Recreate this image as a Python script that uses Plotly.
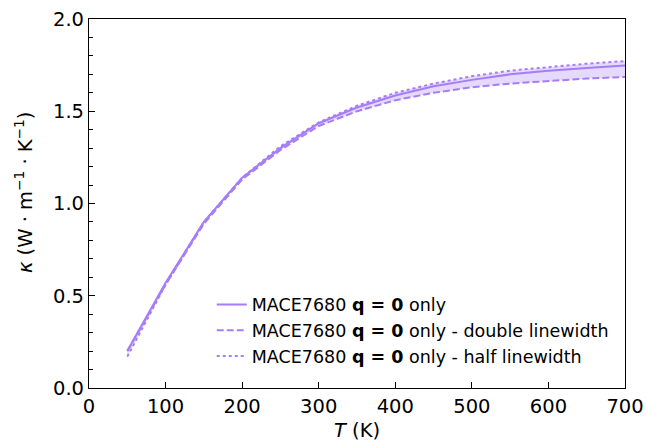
import plotly.graph_objects as go

T = [50, 100, 150, 200, 250, 300, 350, 400, 450, 500, 550, 600, 650, 700]
kappa_solid = [0.20, 0.57, 0.90, 1.14, 1.30, 1.435, 1.52, 1.585, 1.635, 1.67, 1.70, 1.72, 1.735, 1.748]
kappa_double = [0.20, 0.56, 0.89, 1.13, 1.29, 1.42, 1.50, 1.56, 1.60, 1.63, 1.65, 1.665, 1.677, 1.686]
kappa_half = [0.17, 0.56, 0.90, 1.14, 1.31, 1.44, 1.53, 1.60, 1.65, 1.69, 1.72, 1.74, 1.758, 1.772]

labels = [
    "MACE7680 <b>q = 0</b> only",
    "MACE7680 <b>q = 0</b> only - double linewidth",
    "MACE7680 <b>q = 0</b> only - half linewidth",
]

color = "#A67DF8"
fill = "rgba(170,130,250,0.30)"
font = "DejaVu Sans"
tick_size = 19.5
legend_size = 17.5

upper = [max(a, b, c) for a, b, c in zip(kappa_solid, kappa_double, kappa_half)]
lower = [min(a, b, c) for a, b, c in zip(kappa_solid, kappa_double, kappa_half)]

fig = go.Figure()
fig.add_trace(go.Scatter(x=T, y=upper, mode="lines", line=dict(width=0, color=fill),
                         showlegend=False, hoverinfo="skip"))
fig.add_trace(go.Scatter(x=T, y=lower, mode="lines", line=dict(width=0, color=fill),
                         fill="tonexty", fillcolor=fill, showlegend=False, hoverinfo="skip"))
fig.add_trace(go.Scatter(x=T, y=kappa_solid, mode="lines", name=labels[0], legendgroup="a",
                         line=dict(color=color, width=2)))
fig.add_trace(go.Scatter(x=T, y=kappa_double, mode="lines", name=labels[1], legendgroup="b",
                         line=dict(color=color, width=2, dash="7px,3px")))
fig.add_trace(go.Scatter(x=T, y=kappa_half, mode="lines", name=labels[2], legendgroup="c",
                         line=dict(color=color, width=2, dash="dot")))

axis_common = dict(
    showline=True, linecolor="black", linewidth=1.2, mirror=True,
    ticks="inside", ticklen=6, tickwidth=1.2, tickcolor="black",
    showgrid=False, zeroline=False, automargin=False,
    tickfont=dict(family=font, size=tick_size, color="black"),
)

fig.update_xaxes(range=[0, 700], dtick=100, tick0=0,
                 title=dict(text="<i>T</i> (K)", font=dict(family=font, size=tick_size, color="black"), standoff=6),
                 **axis_common)
fig.update_yaxes(range=[0, 2.0], dtick=0.5, tick0=0, tickformat=".1f",
                 minor=dict(dtick=0.1, ticks="inside", ticklen=3.5, tickcolor="black", tickwidth=1),
                 **axis_common)

fig.add_annotation(
    text="<i>κ</i> (W · m<sup>−1</sup> · K<sup>−1</sup>)",
    textangle=-90, xref="paper", yref="paper",
    x=-0.12, y=0.53, xanchor="center", yanchor="middle", showarrow=False,
    font=dict(family=font, size=tick_size, color="black"),
)

fig.update_layout(
    width=646, height=443,
    margin=dict(l=89, r=21, t=19, b=55, autoexpand=False),
    plot_bgcolor="white", paper_bgcolor="white",
    font=dict(family=font, size=legend_size, color="black"),
    legend=dict(x=0.229, y=0.036, xanchor="left", yanchor="bottom",
                traceorder="normal",
                bgcolor="rgba(255,255,255,0)", font=dict(family=font, size=legend_size, color="black"),
                itemwidth=30, tracegroupgap=5),
)

fig.write_html("out.html")
